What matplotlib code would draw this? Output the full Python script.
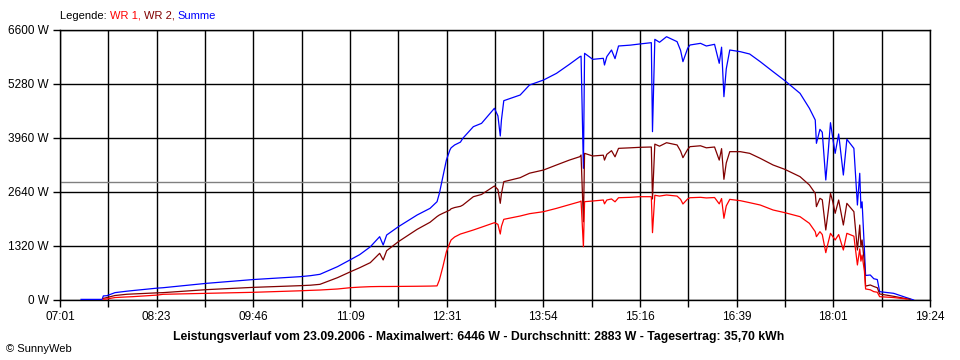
import numpy as np
import matplotlib.pyplot as plt

plt.rcParams['font.family'] = ['Liberation Sans', 'DejaVu Sans']

# times of the samples, and power in W (None = no value drawn)
times = ['07:19', '07:37', '07:38', '07:41', '07:48', '07:58', '08:03', '08:24', '08:29',
         '09:06', '09:46', '10:26', '10:35', '10:43', '10:58', '11:09', '11:17', '11:26',
         '11:34', '11:37', '11:40', '11:50', '12:06', '12:17', '12:23', '12:25', '12:28',
         '12:31', '12:34', '12:35', '12:38', '12:43', '12:45', '12:54', '13:01', '13:12',
         '13:15', '13:17', '13:18', '13:20', '13:34', '13:42', '13:54', '14:05', '14:16',
         '14:25', '14:26', '14:28', '14:29', '14:36', '14:45', '14:46', '14:48', '14:52',
         '14:55', '14:58', '15:08', '15:16', '15:26', '15:27', '15:29', '15:33', '15:39',
         '15:48', '15:51', '15:53', '15:57', '15:59', '16:08', '16:13', '16:20', '16:24',
         '16:26', '16:28', '16:30', '16:33', '16:42', '16:50', '16:59', '17:10', '17:20',
         '17:33', '17:41', '17:46', '17:47', '17:50', '17:52', '17:55', '17:57', '17:59',
         '18:01', '18:03', '18:06', '18:10', '18:13', '18:19', '18:22', '18:24', '18:25',
         '18:26', '18:28', '18:29', '18:33', '18:36', '18:39', '18:41', '18:53', '19:04',
         '19:07', '19:10']
wr1 = [None, None, 20, 25, 60, 75, 81, 120, 139,
       163, 188, 225, 236, 244, 269, 301, 315, 326,
       330, 330, 330, 332, 336, 340, 345, 489, 815,
       1181, 1400, 1467, 1540, 1613, 1630, 1711, 1780, 1890,
       1850, 1613, 1800, 1972, 2053, 2110, 2159, 2240, 2330,
       2403, 2420, 1303, 2403, 2420, 2444, 2350, 2444, 2470,
       2400, 2500, 2510, 2525, 2525, 1646, 2560, 2540, 2567,
       2540, 2460, 2347, 2470, 2500, 2510, 2495, 2505, 2350,
       2480, 1997, 2300, 2460, 2428, 2379, 2322, 2200, 2135,
       2037, 1874, 1670, 1548, 1670, 1600, 1157, 1400, 1630,
       1550, 1467, 1600, 1222, 1630, 1560, 856, 1250, 950,
       1100, 700, 270, 250, 204, 190, 81, 60, 24,
       None, None]
wr2 = [None, None, 40, 60, 110, 140, 147, 175, 180,
       253, 309, 350, 362, 383, 546, 690, 790, 913,
       1141, 978, 1206, 1426, 1727, 1900, 2040, 2078, 2120,
       2159, 2200, 2230, 2260, 2290, 2320, 2525, 2580, 2787,
       2700, 2363, 2600, 2892, 2990, 3100, 3178, 3300, 3420,
       3504, 3544, 1914, 3585, 3520, 3540, 3420, 3560, 3650,
       3500, 3707, 3720, 3732, 3740, 2470, 3810, 3760, 3845,
       3790, 3640, 3479, 3680, 3748, 3770, 3720, 3740, 3420,
       3700, 2950, 3350, 3626, 3626, 3585, 3463, 3300, 3194,
       3015, 2811, 2607, 2282, 2485, 2450, 1711, 2150, 2607,
       2400, 2119, 2444, 1833, 2363, 2159, 1222, 1833, 1303,
       1467, 900, 340, 367, 330, 300, 147, 90, 30,
       16, None]
summe = [15, 15, 100, 105, 180, 215, 230, 290, 300,
         407, 500, 570, 595, 628, 815, 985, 1110, 1300,
         1548, 1344, 1589, 1792, 2078, 2240, 2403, 2607, 3015,
         3422, 3667, 3720, 3789, 3860, 3952, 4237, 4318, 4686,
         4500, 4009, 4400, 4872, 5011, 5256, 5378, 5540, 5760,
         5948, 5960, 3219, 6030, 5883, 5908, 5744, 5950, 6111,
         5900, 6209, 6230, 6258, 6290, 4115, 6372, 6300, 6436,
         6315, 6100, 5826, 6150, 6233, 6274, 6209, 6250, 5786,
         6180, 4970, 5650, 6111, 6070, 6013, 5826, 5581, 5362,
         5052, 4686, 4400, 3830, 4172, 4100, 2933, 3600, 4334,
         3950, 3585, 4058, 3055, 3928, 3707, 2322, 3097, 2250,
         2400, 1222, 600, 611, 520, 500, 204, 163, 57,
         30, 0]

x_labels = ['07:01', '08:23', '09:46', '11:09', '12:31', '13:54', '15:16', '16:39', '18:01', '19:24']
y_ticks = [0, 1320, 2640, 3960, 5280, 6600]
durchschnitt = 2883
titel = ('Leistungsverlauf vom 23.09.2006 - Maximalwert: 6446 W - '
         'Durchschnitt: 2883 W - Tagesertrag: 35,70 kWh')

start = 7 * 60 + 1
end = 19 * 60 + 24
t = np.array([int(s[:2]) * 60 + int(s[3:]) - start for s in times], dtype=float)


def arr(v):
    return np.array([np.nan if a is None else a for a in v], dtype=float)


fig = plt.figure(figsize=(9.6, 3.6), dpi=100)
ax = fig.add_axes([60 / 960, 60 / 360, 870 / 960, 270 / 360])

ax.plot(t, arr(summe), color='#0000ff', lw=0.9, zorder=3)
ax.plot(t, arr(wr2), color='#800000', lw=0.9, zorder=4)
ax.plot(t, arr(wr1), color='#ff0000', lw=0.9, zorder=5)
ax.axhline(durchschnitt, color='#808080', lw=1.0, zorder=2)

span = end - start
ax.set_xlim(0, span)
ax.set_ylim(0, 6600)
ax.set_xticks(np.linspace(0, span, 10))
ax.set_xticklabels(x_labels)
ax.set_xticks(np.linspace(0, span, 19), minor=True)
ax.set_yticks(y_ticks)
ax.set_yticklabels([f'{v} W' for v in y_ticks])
ax.grid(True, which='both', color='black', lw=1.0, zorder=1)
ax.tick_params(which='both', direction='out', length=5, width=1.0, color='black',
               labelsize=8.5, pad=3)
for s in ax.spines.values():
    s.set_color('black')
    s.set_linewidth(1.0)

fig.text(479 / 960, 1 - 337 / 360, titel, ha='center', va='center',
         fontsize=8.8, fontweight='bold')
fig.text(6 / 960, 1 - 349 / 360, '\u00a9 SunnyWeb', ha='left', va='center', fontsize=8)

# multi-coloured legend line
leg = fig.text(60 / 960, 1 - 16 / 360, 'Legende: ', ha='left', va='center', fontsize=8)
prev = leg
for txt, col in [('WR 1, ', '#ff0000'), ('WR 2, ', '#800000'), ('Summe', '#0000ff')]:
    prev = ax.annotate(txt, xy=(1, 0), xycoords=prev, va='bottom', ha='left',
                       fontsize=8, color=col)

fig.savefig('out.png', dpi=100, facecolor='white')
